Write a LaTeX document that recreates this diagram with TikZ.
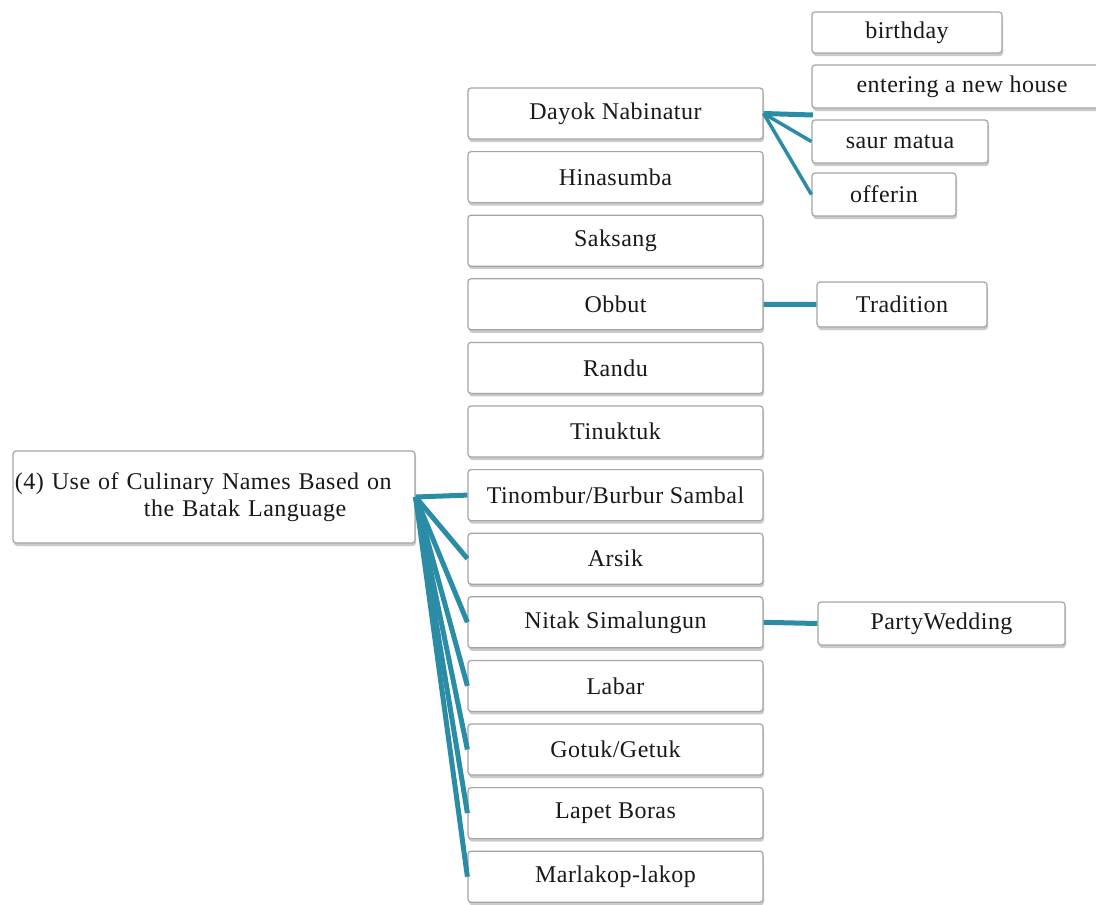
\documentclass[tikz,border=0pt]{standalone}
\usepackage{fontspec}
\setmainfont{Liberation Serif}[LetterSpace=2]
\usetikzlibrary{shadows}
\definecolor{linkcol}{RGB}{42,140,165}
\definecolor{boxline}{RGB}{165,165,165}
\definecolor{txtcol}{RGB}{25,25,25}
\begin{document}
\begin{tikzpicture}[x=1pt,y=-1pt,
  box/.style={draw=boxline, line width=1.2pt, fill=white, rounded corners=3pt,
    drop shadow={shadow xshift=1pt, shadow yshift=-3pt, opacity=0.35, fill=black!60},
    inner sep=0pt, font=\fontsize{24}{27}\selectfont, text=txtcol},
  mid/.style={box, minimum width=295pt, minimum height=51pt},
  link/.style={draw=linkcol, line width=5pt},
  thinlink/.style={draw=linkcol, line width=3.5pt}]
\useasboundingbox (0,0) rectangle (1096,905);
% root
\node[box, minimum width=402pt, minimum height=92pt, text width=398pt, align=left, inner xsep=2pt] (root) at (214,497)
  {(4) Use of Culinary Names Based on\\\hspace*{129pt}the Batak Language};
% middle column
\foreach \t [count=\i from 0] in {Dayok Nabinatur, Hinasumba, Saksang, Obbut, Randu, Tinuktuk, Tinombur/Burbur Sambal, Arsik, Nitak Simalungun, Labar, Gotuk/Getuk, Lapet Boras, Marlakop-lakop}
  \node[mid] (m\i) at (615.5,113.5+63.6*\i) {\t};
% right column
\node[box, minimum width=190pt, minimum height=41pt] (bday) at (907,32.5) {birthday};
\node[box, minimum width=300pt, minimum height=43pt] (house) at (962,86.5) {entering a new house};
\node[box, minimum width=176pt, minimum height=43pt] (saur) at (900,141.5) {saur matua};
\node[box, minimum width=144pt, minimum height=43pt] (offer) at (884,194.5) {offerin};
\node[box, minimum width=170pt, minimum height=45pt] (trad) at (902,304.5) {Tradition};
\node[box, minimum width=247pt, minimum height=43pt] (party) at (941.5,623.5) {PartyWedding};
% connectors
\coordinate (dk) at (813,115);
\draw[link] (m0.east) -- (dk);
\draw[thinlink] (m0.east) -- (saur.west);
\draw[thinlink] (m0.east) -- (offer.west);
\draw[link] (m3.east) -- (trad.west);
\draw[link] (m8.east) -- (party.west);
\foreach \i in {6,...,12}
  \draw[link] (root.east) -- (m\i.west);
\end{tikzpicture}
\end{document}
